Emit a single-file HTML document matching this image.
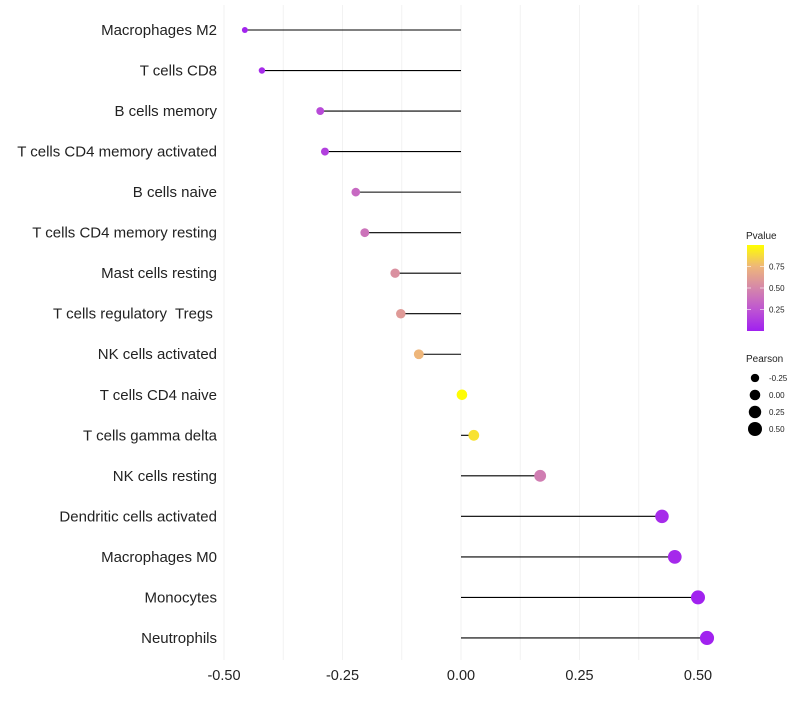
<!DOCTYPE html>
<html><head><meta charset="utf-8"><style>
body{margin:0;background:#fff;font-family:"Liberation Sans",sans-serif}
text{white-space:pre}
</style></head><body>
<svg id="chart" width="800" height="700" xmlns="http://www.w3.org/2000/svg"></svg>
<script>
const categories=["Macrophages M2","T cells CD8","B cells memory","T cells CD4 memory activated","B cells naive","T cells CD4 memory resting","Mast cells resting","T cells regulatory  Tregs ","NK cells activated","T cells CD4 naive","T cells gamma delta","NK cells resting","Dendritic cells activated","Macrophages M0","Monocytes","Neutrophils"];
const pearson=[-0.456,-0.42,-0.297,-0.287,-0.222,-0.203,-0.139,-0.127,-0.089,0.002,0.027,0.167,0.424,0.451,0.5,0.519];
const pvalues=[0.02,0.05,0.2,0.15,0.35,0.4,0.55,0.6,0.75,0.99,0.9,0.45,0.05,0.04,0.01,0.01];
const xTicks=[-0.5,-0.25,0,0.25,0.5];
const xTickLabels=["-0.50","-0.25","0.00","0.25","0.50"];
const pTicks=[0.25,0.5,0.75];
const sizeTicks=[-0.25,0,0.25,0.5];
const sizeTickLabels=["-0.25","0.00","0.25","0.50"];

const NS="http://www.w3.org/2000/svg";
const svg=document.getElementById('chart');
const x=v=>461+v*474;
const y=i=>30+i*40.53;
const rad=v=>Math.sqrt(Math.max(3,28+42*v));
const stops=[[0,[160,32,240]],[0.25,[190,85,210]],[0.5,[213,135,170]],[0.75,[238,182,122]],[1,[255,255,0]]];
function col(p){for(let i=1;i<stops.length;i++){if(p<=stops[i][0]){const a=stops[i-1],b=stops[i],t=(p-a[0])/(b[0]-a[0]);return 'rgb('+a[1].map((c,k)=>Math.round(c+(b[1][k]-c)*t)).join(',')+')';}}return 'rgb(255,255,0)';}
function mk(t,attrs,txt){const e=document.createElementNS(NS,t);for(const k in attrs)e.setAttribute(k,attrs[k]);if(txt!==undefined)e.textContent=txt;svg.appendChild(e);return e;}

for(let v=-0.5;v<=0.5001;v+=0.125){
 const g=mk('line',{x1:x(v),x2:x(v),y1:5,y2:660,stroke:'#f2f2f2','stroke-width':1});
 
 
}
xTicks.forEach((v,i)=>{
 const t=mk('text',{x:x(v),y:680,'text-anchor':'middle','font-size':14.5,fill:'#222'},xTickLabels[i]);
 
 
});
categories.forEach((c,i)=>{
 const l=mk('text',{x:217,y:y(i)+5,'text-anchor':'end','font-size':15,fill:'#222'},c);
 
 
 const s=mk('line',{x1:x(0),x2:x(pearson[i]),y1:y(i),y2:y(i),stroke:'#000','stroke-width':1.1});
 
 
 const d=mk('circle',{cx:x(pearson[i]),cy:y(i),r:rad(pearson[i]),fill:col(pvalues[i])});
 
 
});
const t1=mk('text',{x:746,y:239,'font-size':10,fill:'#222'},'Pvalue');


const defs=mk('defs',{});
const lg=document.createElementNS(NS,'linearGradient');
lg.setAttribute('id','pg');lg.setAttribute('x1','0');lg.setAttribute('y1','1');lg.setAttribute('x2','0');lg.setAttribute('y2','0');
stops.forEach(s=>{const st=document.createElementNS(NS,'stop');st.setAttribute('offset',s[0]);st.setAttribute('stop-color',col(s[0]));lg.appendChild(st);});
defs.appendChild(lg);
const cb=mk('rect',{x:747,y:245,width:17,height:86,fill:'url(#pg)'});


const py=p=>331-p*86;
pTicks.forEach(p=>{
 mk('line',{x1:747,x2:751,y1:py(p),y2:py(p),stroke:'#fff','stroke-width':0.6});
 mk('line',{x1:760,x2:764,y1:py(p),y2:py(p),stroke:'#fff','stroke-width':0.6});
 const t=mk('text',{x:769,y:py(p)+3,'font-size':8,fill:'#222'},p.toFixed(2));
 
 
});
const t2=mk('text',{x:746,y:362,'font-size':10,fill:'#222'},'Pearson');


sizeTicks.forEach((v,i)=>{
 const cy=378+i*17;
 const c=mk('circle',{cx:755,cy:cy,r:rad(v),fill:'#000'});
 
 
 const t=mk('text',{x:769,y:cy+3,'font-size':8,fill:'#222'},sizeTickLabels[i]);
 
 
});
</script>
</body></html>
